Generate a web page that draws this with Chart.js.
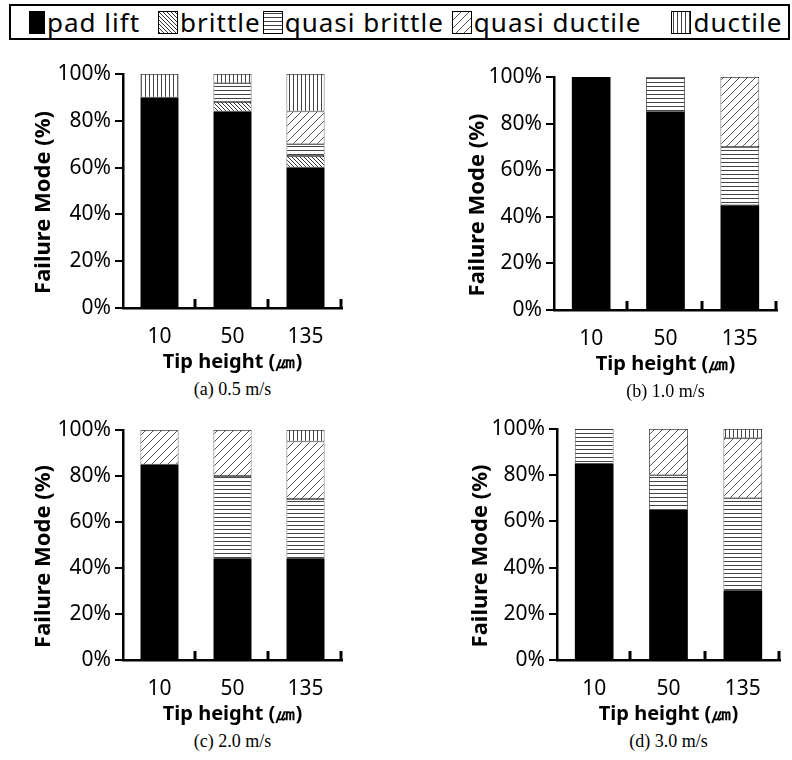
<!DOCTYPE html>
<html lang="en">
<head>
<meta charset="UTF-8">
<title>Failure Mode vs Tip height</title>
<script src="https://cdn.jsdelivr.net/npm/chart.js"></script>
<style>
  body { margin: 0; width: 792px; height: 760px; background: #fff; position: relative; overflow: hidden; font-family: "Noto Sans", sans-serif; }
  #legend { position: absolute; left: 9px; top: 4px; width: 781px; height: 36px; border: 2px solid #000; box-sizing: border-box;
            display: flex; align-items: center; font-size: 26px; letter-spacing: 1px; color: #000; white-space: nowrap; }
  #legend .item { display: flex; align-items: center; }
  #legend canvas { border: 1px solid #000; margin-right: 2px; }
  .panel { position: absolute; }
  .caption { position: absolute; width: 240px; text-align: center; font-family: "Liberation Serif", serif; font-size: 18px; }
</style>
</head>
<body>
<div id="legend"></div>

<canvas id="pa" class="panel"></canvas>
<canvas id="pb" class="panel"></canvas>
<canvas id="pc" class="panel"></canvas>
<canvas id="pd" class="panel"></canvas>

<div class="caption" id="ca">(a) 0.5 m/s</div>
<div class="caption" id="cb">(b) 1.0 m/s</div>
<div class="caption" id="cc">(c) 2.0 m/s</div>
<div class="caption" id="cd">(d) 3.0 m/s</div>

<script>
  // categories / tick labels
  const tipHeights = ['10', '50', '135'];
  const modes = ['pad lift', 'brittle', 'quasi brittle', 'quasi ductile', 'ductile'];
  const yTicks = [0, 20, 40, 60, 80, 100];

  // (a) 0.5 m/s
  const padLiftA      = [90, 84, 60];
  const brittleA      = [0, 4, 5];
  const quasiBrittleA = [0, 8, 5];
  const quasiDuctileA = [0, 0, 14];
  const ductileA      = [10, 4, 16];

  // (b) 1.0 m/s
  const padLiftB      = [100, 85, 45];
  const brittleB      = [0, 0, 0];
  const quasiBrittleB = [0, 15, 25];
  const quasiDuctileB = [0, 0, 30];
  const ductileB      = [0, 0, 0];

  // (c) 2.0 m/s
  const padLiftC      = [85, 44, 44];
  const brittleC      = [0, 0, 0];
  const quasiBrittleC = [0, 36, 26];
  const quasiDuctileC = [15, 20, 25];
  const ductileC      = [0, 0, 5];

  // (d) 3.0 m/s
  const padLiftD      = [85, 65, 30];
  const brittleD      = [0, 0, 0];
  const quasiBrittleD = [15, 15, 40];
  const quasiDuctileD = [0, 20, 26];
  const ductileD      = [0, 0, 4];

  const FONT = '"Noto Sans", sans-serif';

  function hatch(kind) {
    const c = document.createElement('canvas');
    c.width = 8; c.height = 8;
    const g = c.getContext('2d');
    g.fillStyle = '#fff';
    g.fillRect(0, 0, 8, 8);
    g.lineWidth = 1;
    g.beginPath();
    if (kind === 'brittle') {
      g.strokeStyle = '#333';
      for (let k = -8; k <= 8; k += 4) { g.moveTo(k, 0); g.lineTo(k + 8, 8); }
    } else if (kind === 'quasi brittle') {
      g.strokeStyle = '#444';
      g.moveTo(0, 1.5); g.lineTo(8, 1.5);
      g.moveTo(0, 5.5); g.lineTo(8, 5.5);
    } else if (kind === 'quasi ductile') {
      g.strokeStyle = '#555';
      for (let k = -8; k <= 8; k += 8) { g.moveTo(k, 8); g.lineTo(k + 8, 0); }
    } else if (kind === 'ductile') {
      g.strokeStyle = '#444';
      g.moveTo(1.5, 0); g.lineTo(1.5, 8);
      g.moveTo(5.5, 0); g.lineTo(5.5, 8);
    }
    g.stroke();
    return g.createPattern(c, 'repeat');
  }

  const fills = {
    'pad lift': '#000',
    'brittle': hatch('brittle'),
    'quasi brittle': hatch('quasi brittle'),
    'quasi ductile': hatch('quasi ductile'),
    'ductile': hatch('ductile')
  };

  // legend
  const legend = document.getElementById('legend');
  const gaps = [18, 2, 8, 30];
  modes.forEach((m, i) => {
    const item = document.createElement('div');
    item.className = 'item';
    item.style.marginLeft = i === 0 ? '18px' : gaps[i - 1] + 'px';
    const sw = document.createElement('canvas');
    sw.width = m === 'pad lift' ? 14 : 18;
    sw.height = 21;
    const g = sw.getContext('2d');
    g.fillStyle = fills[m];
    g.fillRect(0, 0, sw.width, sw.height);
    const label = document.createElement('span');
    label.textContent = m;
    item.appendChild(sw);
    item.appendChild(label);
    legend.appendChild(item);
  });

  // small upward ticks on the x axis at the category boundaries
  const innerTicks = {
    id: 'innerTicks',
    afterDraw(chart) {
      const g = chart.ctx;
      const area = chart.chartArea;
      const n = chart.data.labels.length;
      g.save();
      g.strokeStyle = '#000';
      g.lineWidth = 3;
      g.beginPath();
      for (let i = 1; i <= n; i++) {
        const x = Math.round(area.left + (area.right - area.left) * i / n) - 1;
        g.moveTo(x, area.bottom + 1);
        g.lineTo(x, area.bottom - 9);
      }
      g.stroke();
      g.restore();
    }
  };

  // panel geometry in page pixels: canvas origin and chart area
  const panels = [
    { id: 'pa', cap: 'ca', left: 0,   top: 45,  area: [123, 74, 342, 308],  titleX: 44,  sets: [padLiftA, brittleA, quasiBrittleA, quasiDuctileA, ductileA] },
    { id: 'pb', cap: 'cb', left: 396, top: 45,  area: [554, 77, 777, 310],  titleX: 478, sets: [padLiftB, brittleB, quasiBrittleB, quasiDuctileB, ductileB] },
    { id: 'pc', cap: 'cc', left: 0,   top: 400, area: [123, 430, 342, 660], titleX: 44,  sets: [padLiftC, brittleC, quasiBrittleC, quasiDuctileC, ductileC] },
    { id: 'pd', cap: 'cd', left: 396, top: 400, area: [557, 429, 780, 660], titleX: 481, sets: [padLiftD, brittleD, quasiBrittleD, quasiDuctileD, ductileD] }
  ];

  const X_BOX = 66;

  panels.forEach(p => {
    const [l, t, r, b] = p.area;
    const cv = document.getElementById(p.id);
    const w = 396;
    const h = b - p.top + X_BOX;
    cv.width = w; cv.height = h;
    cv.style.left = p.left + 'px';
    cv.style.top = p.top + 'px';

    const cap = document.getElementById(p.cap);
    cap.style.left = ((l + r) / 2 - 120) + 'px';
    cap.style.top = (b + 71) + 'px';

    const yTitleSize = 22;
    new Chart(cv, {
      type: 'bar',
      data: {
        labels: tipHeights,
        datasets: modes.map((m, i) => ({
          label: m,
          data: p.sets[i].map(v => v || null),
          backgroundColor: fills[m],
          borderColor: '#000',
          borderWidth: i === 0 ? 0 : 0.75,
          borderSkipped: false,
          barPercentage: 1,
          categoryPercentage: 0.52
        }))
      },
      plugins: [innerTicks],
      options: {
        responsive: false,
        animation: false,
        layout: { padding: { left: 0, top: t - p.top, right: p.left + w - r, bottom: 0 } },
        plugins: { legend: { display: false }, tooltip: { enabled: false } },
        scales: {
          x: {
            stacked: true,
            grid: { display: false },
            border: { display: true, color: '#000', width: 2.5 },
            ticks: { color: '#000', font: { family: FONT, size: 21 }, padding: 8 },
            title: { display: true, text: 'Tip height (㎛)', color: '#000', font: { family: FONT, size: 20, weight: 'bold' }, padding: { top: 0, bottom: 0 } },
            afterFit: s => { s.height = X_BOX; }
          },
          y: {
            stacked: true,
            min: 0, max: 100,
            afterBuildTicks: s => { s.ticks = yTicks.map(v => ({ value: v })); },
            grid: { display: true, drawOnChartArea: false, drawTicks: true, tickLength: 8, color: '#000', lineWidth: 2 },
            border: { display: true, color: '#000', width: 2.5 },
            ticks: { color: '#000', font: { family: FONT, size: 21 }, padding: 4, callback: v => v + '%' },
            title: { display: true, text: 'Failure Mode (%)\u00a0\u00a0\u00a0\u00a0', color: '#000', font: { family: FONT, size: yTitleSize, weight: 'bold' },
                     padding: { top: p.titleX - p.left - yTitleSize * 0.6, bottom: 0 } },
            afterFit: s => { s.width = l - p.left; }
          }
        }
      }
    });
  });
</script>
</body>
</html>
